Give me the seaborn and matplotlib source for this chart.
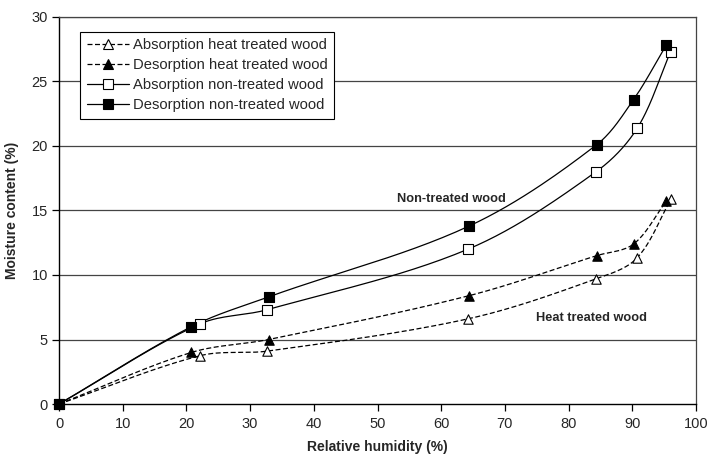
import numpy as np
import matplotlib
matplotlib.use("Agg")
import matplotlib.pyplot as plt
from matplotlib.lines import Line2D
import seaborn as sns

# ---- data -------------------------------------------------------------------
rh_abs_ht = [0, 22.2, 32.7, 64.2, 84.3, 90.7, 96.1]
mc_abs_ht = [0, 3.75, 4.1, 6.6, 9.7, 11.3, 15.9]

rh_des_ht = [0, 20.8, 32.9, 64.4, 84.4, 90.2, 95.3]
mc_des_ht = [0, 4.0, 5.0, 8.4, 11.5, 12.4, 15.7]

rh_abs_nt = [0, 22.1, 32.6, 64.2, 84.3, 90.8, 96.0]
mc_abs_nt = [0, 6.2, 7.3, 12.0, 18.0, 21.4, 27.3]

rh_des_nt = [0, 20.8, 32.9, 64.4, 84.4, 90.2, 95.3]
mc_des_nt = [0, 6.0, 8.3, 13.8, 20.1, 23.6, 27.8]

labels = ["Absorption heat treated wood", "Desorption heat treated wood",
          "Absorption non-treated wood", "Desorption non-treated wood"]

# pixel size of one data unit, used only to shape the smoothed line
SX, SY = 6.37, 12.9


def smooth(x, y, n=30):
    # bezier smoothing, roughly like a spreadsheet "smoothed line"
    p = np.column_stack([np.asarray(x, float) * SX, np.asarray(y, float) * SY])
    p = np.vstack([p[:1], p, p[-1:]])
    out = []
    t = np.linspace(0, 1, n)[:, None]
    for i in range(1, len(p) - 2):
        p0, p1, p2, p3 = p[i - 1], p[i], p[i + 1], p[i + 2]
        d01 = np.linalg.norm(p1 - p0)
        d12 = np.linalg.norm(p2 - p1)
        d23 = np.linalg.norm(p3 - p2)
        c1 = p1 + (p2 - p0) * d12 / max(d01 + d12, 1e-9) / 3
        c2 = p2 - (p3 - p1) * d12 / max(d12 + d23, 1e-9) / 3
        b = (1 - t) ** 3 * p1 + 3 * (1 - t) ** 2 * t * c1 + 3 * (1 - t) * t ** 2 * c2 + t ** 3 * p2
        out.append(b)
    b = np.vstack(out)
    return b[:, 0] / SX, b[:, 1] / SY


sns.set_theme(style="white")
plt.rcParams["font.family"] = ["Liberation Sans", "DejaVu Sans"]

fig = plt.figure(figsize=(7.09, 4.58), dpi=100)
ax = fig.add_axes([59 / 709, 1 - 404 / 458, 637 / 709, 387 / 458])

series = [
    (rh_abs_ht, mc_abs_ht, (0, (4, 2)), "^", "white"),
    (rh_des_ht, mc_des_ht, (0, (4, 2)), "^", "black"),
    (rh_abs_nt, mc_abs_nt, "-", "s", "white"),
    (rh_des_nt, mc_des_nt, "-", "s", "black"),
]

handles = []
for (x, y, ls, mk, fc), lab in zip(series, labels):
    sx, sy = smooth(x, y)
    ax.plot(sx, sy, color="black", lw=0.9, linestyle=ls, zorder=3)
    sns.scatterplot(x=x, y=y, ax=ax, marker=mk, s=46, facecolor=fc,
                    edgecolor="black", linewidth=0.8, zorder=4, legend=False,
                    clip_on=False)
    handles.append(Line2D([], [], color="black", lw=0.9, linestyle=ls, marker=mk,
                          markersize=6.5, markerfacecolor=fc, markeredgecolor="black",
                          markeredgewidth=0.8))

ax.set_xlim(0, 100)
ax.set_ylim(0, 30)
ax.set_xticks(range(0, 101, 10))
ax.set_yticks(range(0, 31, 5))
for v in range(5, 31, 5):
    ax.axhline(v, color="#444444", lw=0.9, zorder=1)

for s in ["left", "bottom"]:
    ax.spines[s].set_color("black")
    ax.spines[s].set_linewidth(1.0)
for s in ["top", "right"]:
    ax.spines[s].set_color("#444444")
    ax.spines[s].set_linewidth(0.9)

ax.tick_params(axis="x", direction="out", length=5, width=0.9, color="black",
               bottom=True, labelsize=10.5, pad=4)
ax.tick_params(axis="y", direction="out", length=5, width=0.9, color="black",
               left=True, labelsize=10.5, pad=3)

ax.set_xlabel("Relative humidity (%)", fontsize=10, fontweight="bold", labelpad=7)
ax.set_ylabel("Moisture content (%)", fontsize=10, fontweight="bold", labelpad=9)

ax.text(53.1, 15.9, "Non-treated wood", fontsize=9.2, fontweight="bold", va="center")
ax.text(74.9, 6.7, "Heat treated wood", fontsize=9.2, fontweight="bold", va="center")

leg = ax.legend(handles, labels, loc="upper left", bbox_to_anchor=(0.033, 0.962),
                fontsize=10.6, frameon=True, fancybox=False, framealpha=1,
                edgecolor="black", handlelength=2.9, borderpad=0.45,
                labelspacing=0.4, handletextpad=0.25, borderaxespad=0)
leg.get_frame().set_linewidth(0.8)

fig.savefig("out.png", dpi=100)
